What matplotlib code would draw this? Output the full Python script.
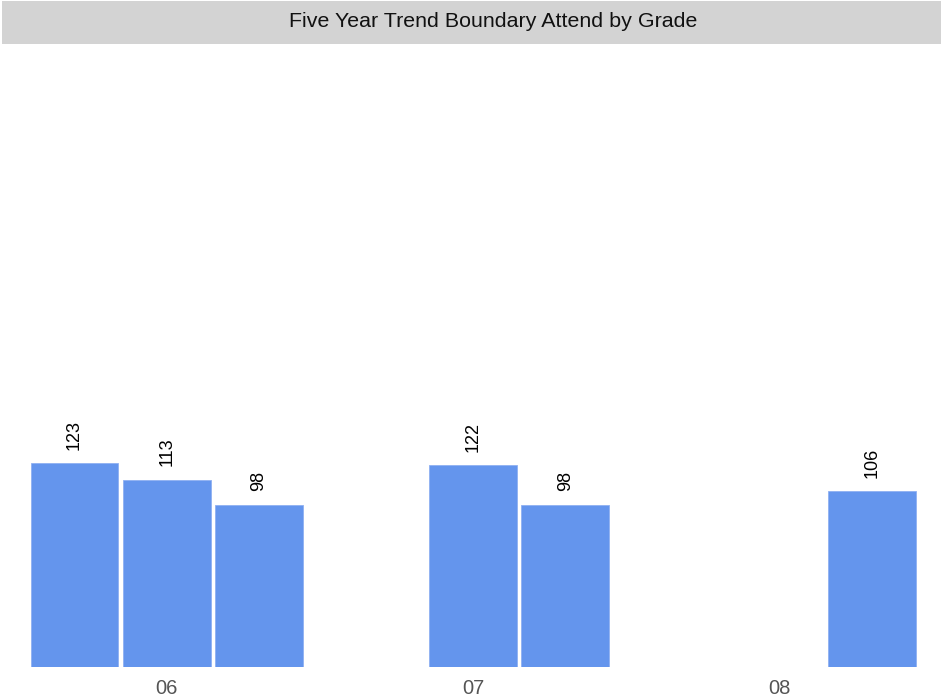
import matplotlib.pyplot as plt
import matplotlib
import numpy as np
from matplotlib.patches import Rectangle

matplotlib.rcParams['font.family'] = ['Liberation Sans', 'DejaVu Sans']

# grades on the x axis, three bars (years) per grade
grades = ['06', '07', '08']
year1 = [123, np.nan, np.nan]
year2 = [113, 122, np.nan]
year3 = [98, 98, 106]
series = [year1, year2, year3]

W, H = 941, 699
fig = plt.figure(figsize=(W / 100, H / 100), dpi=100)

# title band
fig.patches.append(Rectangle((2 / W, 1 - 44 / H), 939 / W, 43 / H, transform=fig.transFigure,
                             facecolor='#d3d3d3', edgecolor='none', zorder=0))
fig.text(493 / W, 1 - 27 / H, 'Five Year Trend Boundary Attend by Grade', ha='center', va='baseline',
         fontsize=15.4, color='#111111')

ax = fig.add_axes([0, (H - 667) / H, 1, (667 - 50) / H])

group_gap = 3.325  # distance between grade centres, in bar slots
x = np.arange(len(grades)) * group_gap
width = 0.954

for i, vals in enumerate(series):
    pos = x + (i - 1)
    bars = ax.bar(pos, vals, width, color='#6495ED', edgecolor='#8fb0f2', linewidth=0.6)
    for xp, v in zip(pos, vals):
        if not np.isnan(v):
            ax.annotate(str(int(v)), (xp, v), xytext=(0, 9.5), textcoords='offset points',
                        rotation=90, ha='center', va='bottom', fontsize=13, color='black')

px = 92.2
ax.set_xlim(-166.7 / px, (941 - 166.7) / px)
ax.set_ylim(0, (667 - 50) / 1.658)

ax.set_xticks(x)
ax.set_xticklabels(grades, fontsize=14.5, color='#555555')
ax.tick_params(axis='x', length=0, pad=9)
ax.set_yticks([])
for s in ax.spines.values():
    s.set_visible(False)

fig.savefig('out.png', dpi=100)
